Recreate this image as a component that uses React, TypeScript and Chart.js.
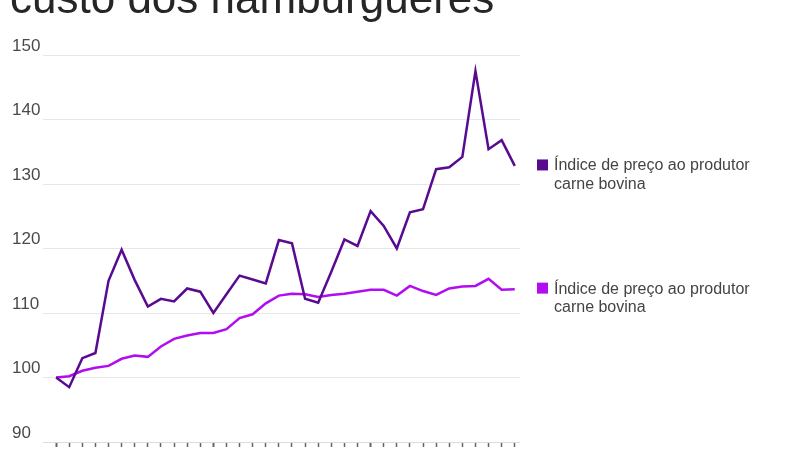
import React, { useEffect, useRef } from "react";
import { Chart, registerables } from "chart.js";

Chart.register(...registerables);

const months: number[] = Array.from({ length: 36 }, (_, i) => i);

const beefPPI: number[] = [
  100, 98.5, 103.0, 103.8, 115.0, 119.8, 115.1, 111.0, 112.2, 111.8, 113.8, 113.3,
  110.0, 112.9, 115.8, 115.2, 114.6, 121.3, 120.8, 112.2, 111.6, 116.4, 121.4, 120.4,
  125.8, 123.5, 120.0, 125.6, 126.1, 132.3, 132.6, 134.2, 147.5, 135.4, 136.8, 132.8,
];

const burgerCPI: number[] = [
  100, 100.2, 101.05, 101.5, 101.8, 102.9, 103.4, 103.2, 104.8, 106.0, 106.5, 106.9,
  106.9, 107.5, 109.2, 109.8, 111.5, 112.7, 113.0, 112.9, 112.5, 112.8, 113.0, 113.3,
  113.6, 113.6, 112.7, 114.2, 113.4, 112.8, 113.8, 114.1, 114.2, 115.3, 113.6, 113.7,
];

const yTicks: number[] = [90, 100, 110, 120, 130, 140, 150];

const titleText = "custo dos hambúrgueres";
const seriesLabels: string[][] = [
  ["Índice de preço ao produtor", "carne bovina"],
  ["Índice de preço ao produtor", "carne bovina"],
];
const seriesColors: string[] = ["#580a90", "#b10df0"];

const overlayPlugin = {
  id: "overlay",
  afterDraw(chart: any) {
    const ctx = chart.ctx;
    ctx.save();
    ctx.fillStyle = "#262626";
    ctx.font = "44px 'Liberation Sans', Arial, sans-serif";
    ctx.textAlign = "left";
    ctx.textBaseline = "alphabetic";
    ctx.fillText(titleText, 10, 13);

    const yScale = chart.scales.y;
    chart.data.datasets.forEach((ds: any, i: number) => {
      const last = ds.data[ds.data.length - 1];
      const yv = yScale.getPixelForValue(typeof last === "number" ? last : last.y);
      const cy = yv - 1.5;
      ctx.fillStyle = seriesColors[i];
      ctx.fillRect(537, cy - 5, 11, 11);
      ctx.fillStyle = "#444";
      ctx.font = "16px 'Liberation Sans', Arial, sans-serif";
      const lines = seriesLabels[i];
      lines.forEach((t, k) => {
        ctx.fillText(t, 554, cy + 6 + k * 18.5);
      });
    });
    ctx.restore();
  },
};

export default function App() {
  const ref = useRef<HTMLCanvasElement | null>(null);

  useEffect(() => {
    if (!ref.current) return;
    const chart = new Chart(ref.current, {
      type: "line",
      data: {
        datasets: [
          {
            label: seriesLabels[0].join(" "),
            data: months.map((m, i) => ({ x: m, y: beefPPI[i] })),
            borderColor: seriesColors[0],
            backgroundColor: seriesColors[0],
            borderWidth: 2.5,
            pointRadius: 0,
            tension: 0,
          },
          {
            label: seriesLabels[1].join(" "),
            data: months.map((m, i) => ({ x: m, y: burgerCPI[i] })),
            borderColor: seriesColors[1],
            backgroundColor: seriesColors[1],
            borderWidth: 2.5,
            pointRadius: 0,
            tension: 0,
          },
        ],
      },
      options: {
        animation: false,
        responsive: false,
        maintainAspectRatio: false,
        layout: { padding: { left: 12, right: 280, top: 55, bottom: 0 } },
        plugins: {
          legend: { display: false },
          tooltip: { enabled: false },
          title: { display: false },
        },
        scales: {
          x: {
            type: "linear",
            min: -1,
            max: 35.4,
            afterFit: (s: any) => {
              s.height = 8;
              s.paddingLeft = 0;
              s.paddingRight = 0;
            },
            afterBuildTicks: (s: any) => {
              s.ticks = months.map((m) => ({ value: m }));
            },
            border: { display: false },
            grid: {
              drawOnChartArea: false,
              drawTicks: true,
              tickLength: 5,
              tickColor: "#666",
              tickWidth: (c: any) => (c.tick && c.tick.value % 12 === 0 ? 2 : 1.5),
            },
            ticks: { display: false },
          },
          y: {
            min: 90,
            max: 150,
            afterFit: (s: any) => {
              s.width = 31;
              s.paddingTop = 0;
              s.paddingBottom = 0;
            },
            afterBuildTicks: (s: any) => {
              s.ticks = yTicks.map((v) => ({ value: v }));
            },
            border: { display: false },
            grid: {
              color: (c: any) => (c.tick && c.tick.value === 90 ? "#dcdcdc" : "#e6e6e6"),
              lineWidth: 1,
              drawTicks: false,
            },
            ticks: {
              crossAlign: "far",
              labelOffset: -9,
              padding: 0,
              color: "#4a4a4a",
              font: { size: 17, family: "'Liberation Sans', Arial, sans-serif" },
            },
          },
        },
      },
      plugins: [overlayPlugin],
    } as any);
    return () => chart.destroy();
  }, []);

  return (
    <div style={{ position: "fixed", left: 0, top: 0, width: 800, height: 450, background: "#fff" }}>
      <canvas ref={ref} width={800} height={450} style={{ width: 800, height: 450, display: "block" }} />
    </div>
  );
}
